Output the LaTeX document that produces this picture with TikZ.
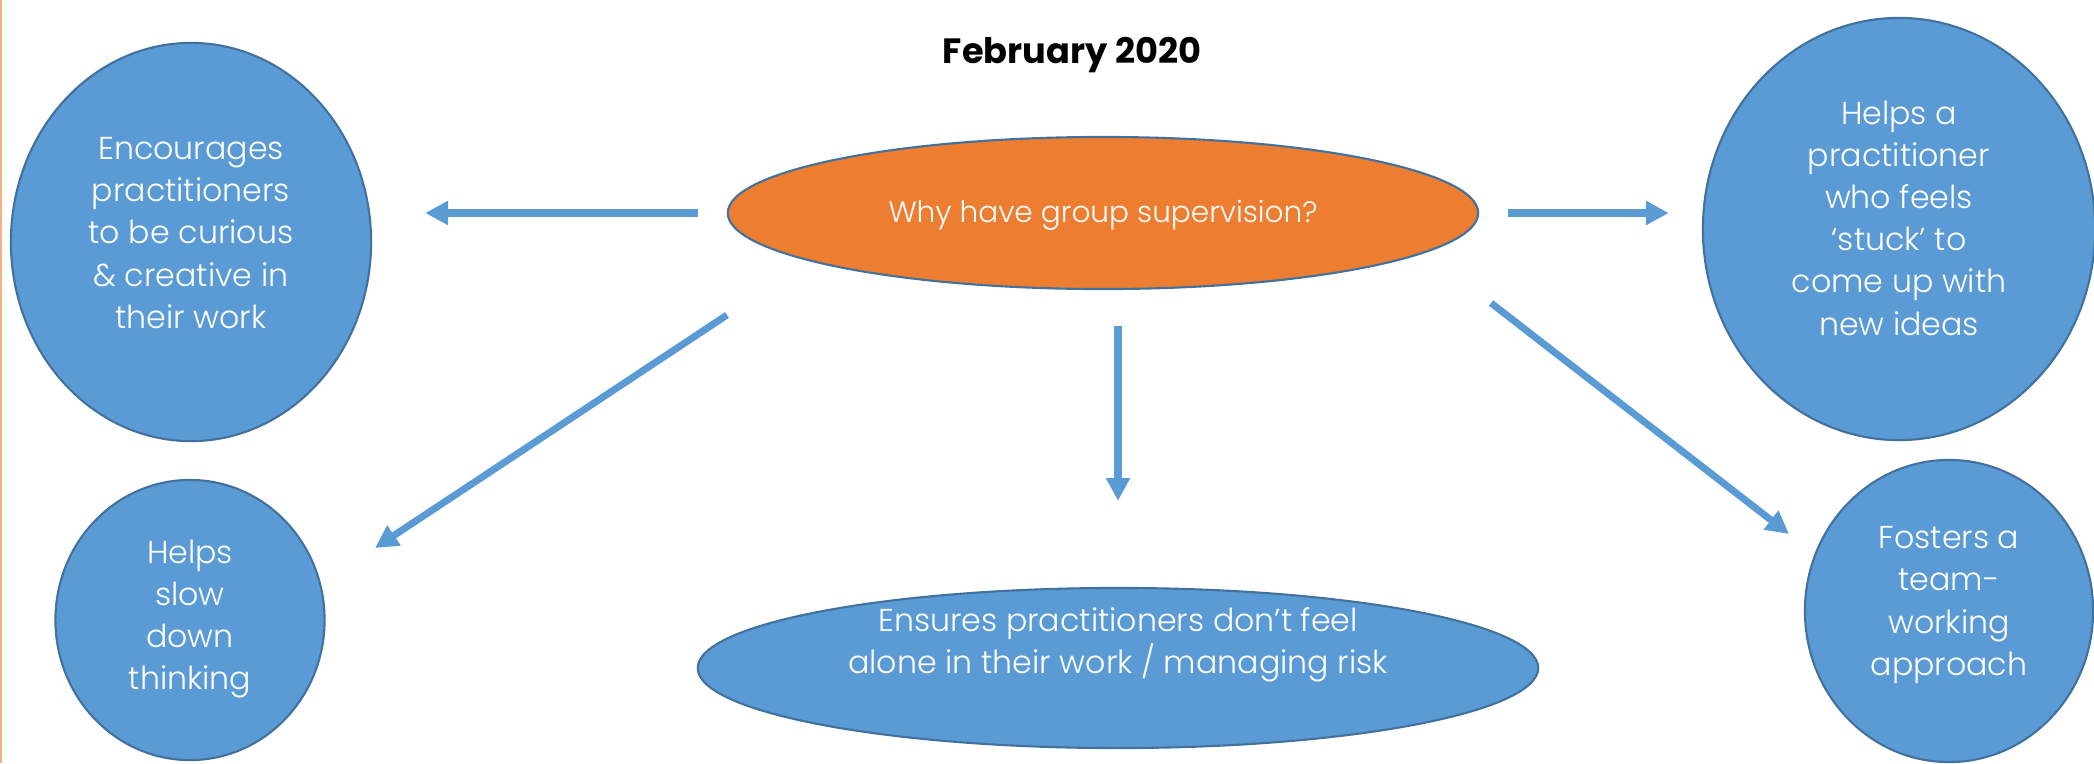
\documentclass[tikz,border=0pt]{standalone}
\usepackage{fontspec}
\IfFontExistsTF{Poppins Light}{\setmainfont{Poppins Light}[BoldFont=Poppins Bold]}{\setmainfont{Poppins}}
\usepackage{tikz}
\usetikzlibrary{shapes.geometric, arrows.meta, positioning}

\definecolor{bubblefill}{HTML}{5B9BD5}
\definecolor{bubbleline}{HTML}{41719C}
\definecolor{whyfill}{HTML}{ED7D31}
\definecolor{edgeline}{HTML}{F4B183}

\begin{document}
\begin{tikzpicture}[x=0.01cm, y=-0.01cm,
	bubble/.style={ellipse, draw=bubbleline, line width=0.6pt, fill=bubblefill, inner sep=0pt},
	bubbletext/.style={text=white, align=center, font=\fontsize{9}{12}\selectfont},
	reason/.style={draw=bubblefill, line width=2pt, -{Triangle[length=6.5pt, width=6.5pt]}}]
		
		\useasboundingbox (0,0) rectangle (2094,763);
		
		%// thin line on the left edge
		\draw[edgeline, line width=0.6pt] (1,0) -- (1,763);
		
		\node [font=\bfseries\fontsize{10}{12}\selectfont] (date) at (1072,55) {February 2020};
		
		%// the bubbles
		\node [bubble, fill=whyfill, minimum width=7.5cm, minimum height=1.52cm] (why) at (1103,213) {};
		\node [bubble, minimum width=3.6cm, minimum height=3.98cm] (curious) at (191,242) {};
		\node [bubble, minimum width=3.92cm, minimum height=4.22cm] (stuck) at (1899,229) {};
		\node [bubble, minimum width=2.69cm, minimum height=2.8cm] (slow) at (190,620) {};
		\node [bubble, minimum width=8.4cm, minimum height=1.6cm] (risk) at (1118,668) {};
		\node [bubble, minimum width=2.88cm, minimum height=3.02cm] (team) at (1949,611) {};
		
		%// their texts
		\node [bubbletext, font=\fontsize{8.4}{12}\selectfont] (why-txt) at (1103,215) {Why have group supervision?};
		\node [bubbletext] (curious-txt) at (191,233) {Encourages\\practitioners\\to be curious\\\& creative in\\their work};
		\node [bubbletext] (stuck-txt) at (1899,218) {Helps a\\practitioner\\who feels\\‘stuck’ to\\come up with\\new ideas};
		\node [bubbletext] (slow-txt) at (190,619) {Helps\\slow\\down\\thinking};
		\node [bubbletext] (risk-txt) at (1118,645) {Ensures practitioners don’t feel\\alone in their work / managing risk};
		\node [bubbletext] (team-txt) at (1949,605) {Fosters a\\team-\\working\\approach};
		
		%// arrows out of the question
		\draw [reason, shorten <=0.29cm, shorten >=0.53cm] (why.west) -- (why.west -| curious.east);
		\draw [reason, shorten <=0.29cm, shorten >=0.33cm] (why.east) -- (why.east -| stuck.west);
		\draw [reason, shorten <=0.36cm, shorten >=0.86cm] (why.south -| risk.north) -- (risk.north);
		
		\coordinate (slow-from) at (727,315);
		\coordinate (slow-to) at (375,548);
		\draw [reason] (slow-from) -- (slow-to);
		
		\coordinate (team-from) at (1491,303);
		\coordinate (team-to) at (1789,534);
		\draw [reason] (team-from) -- (team-to);
		
\end{tikzpicture}
\end{document}
